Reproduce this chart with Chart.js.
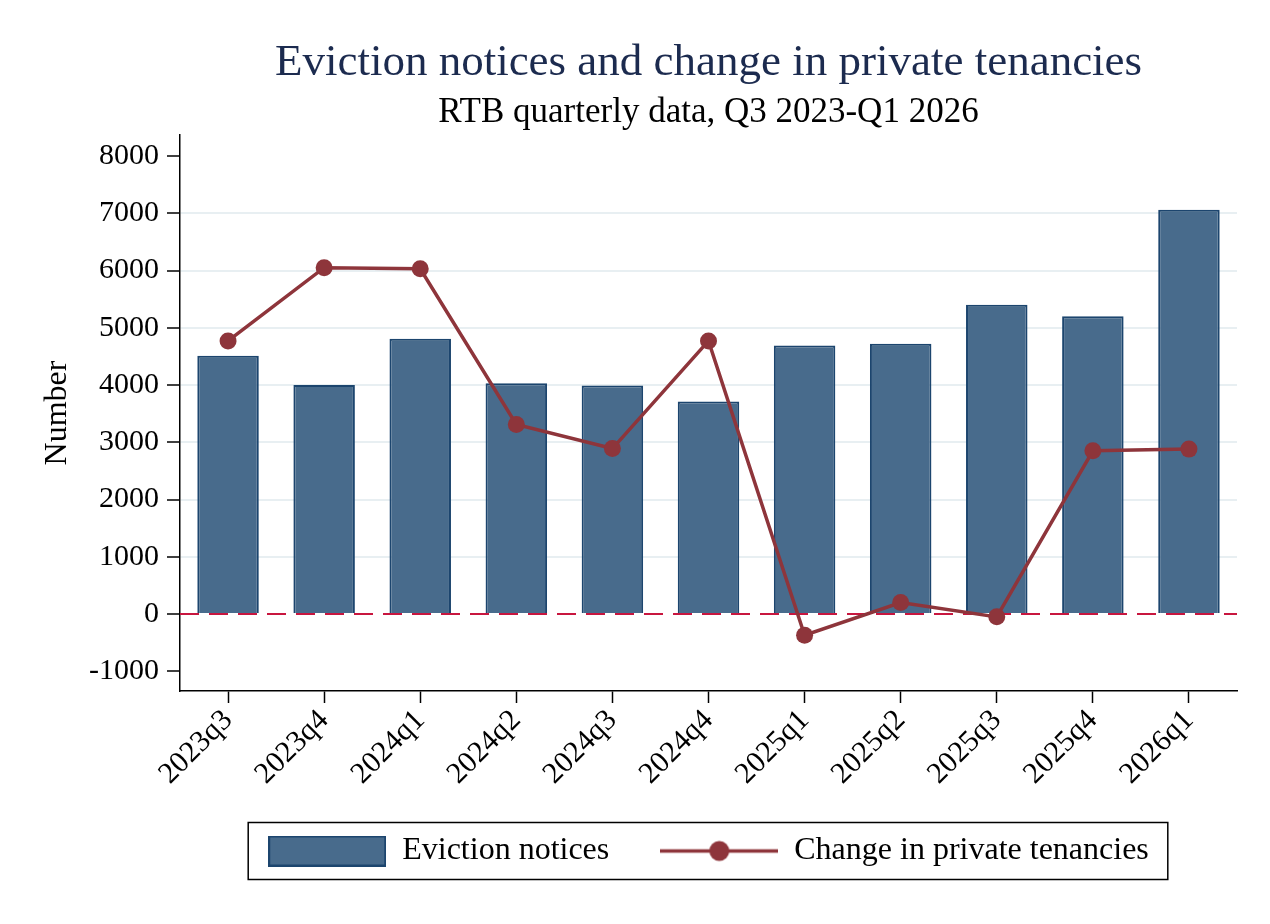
<!DOCTYPE html>
<html>
<head>
<meta charset="utf-8">
<title>Eviction notices and change in private tenancies</title>
<script src="https://cdn.jsdelivr.net/npm/chart.js@4.4.1/dist/chart.umd.min.js"></script>
<style>
  html, body { margin: 0; padding: 0; background: #fff; }
  canvas { display: block; }
</style>
</head>
<body>
<canvas id="evictionChart" width="1270" height="924"></canvas>
<script>
// quarters on the x axis
const quarters = ['2023q3', '2023q4', '2024q1', '2024q2', '2024q3', '2024q4',
                  '2025q1', '2025q2', '2025q3', '2025q4', '2026q1'];

// eviction notices (bars)
const evictionNotices = [4510, 4000, 4810, 4030, 3990, 3710, 4690, 4720, 5400, 5200, 7060];

// change in private tenancies (line)
const tenancyChange = [4770, 6050, 6030, 3310, 2890, 4770, -370, 200, -50, 2850, 2880];

// y axis tick labels
const yTicks = [-1000, 0, 1000, 2000, 3000, 4000, 5000, 6000, 7000, 8000];

const BAR_FILL = '#486b8c';
const BAR_EDGE = '#1c456e';
const LINE_COL = '#8e353b';
const SERIF = '"Liberation Serif", "Times New Roman", serif';

Chart.defaults.font.family = SERIF;
Chart.defaults.color = '#000';

// little pictures for the legend keys
function makeSwatch(kind) {
  const c = document.createElement('canvas');
  c.width = 118;
  c.height = 31;
  const g = c.getContext('2d');
  if (kind === 'bar') {
    g.fillStyle = BAR_FILL;
    g.fillRect(0, 0, 118, 31);
    g.strokeStyle = BAR_EDGE;
    g.lineWidth = 2;
    g.strokeRect(1, 1, 116, 29);
  } else {
    g.strokeStyle = LINE_COL;
    g.lineWidth = 3.5;
    g.beginPath();
    g.moveTo(0, 15.5);
    g.lineTo(118, 15.5);
    g.stroke();
    g.fillStyle = LINE_COL;
    g.beginPath();
    g.arc(59, 15.5, 10, 0, Math.PI * 2);
    g.fill();
  }
  return c;
}
const swatches = [makeSwatch('bar'), makeSwatch('line')];

// dashed red line at zero, over the bars but under the line
const zeroLine = {
  id: 'zeroLine',
  afterDatasetDraw(chart, args) {
    if (args.meta.type !== 'bar') return;
    const { ctx, chartArea } = chart;
    const y = chart.scales.y.getPixelForValue(0);
    ctx.save();
    ctx.strokeStyle = '#c8163f';
    ctx.lineWidth = 2.2;
    ctx.setLineDash([19, 10]);
    ctx.beginPath();
    ctx.moveTo(chartArea.left, y);
    ctx.lineTo(chartArea.right, y);
    ctx.stroke();
    ctx.restore();
  }
};

// black frame round the legend
const legendFrame = {
  id: 'legendFrame',
  afterDraw(chart) {
    const hb = chart.legend && chart.legend.legendHitBoxes;
    if (!hb || !hb.length) return;
    const last = hb[hb.length - 1];
    const cy = hb[0].top + hb[0].height / 2;
    const left = hb[0].left - 20;
    const right = last.left + last.width + 19;
    const ctx = chart.ctx;
    ctx.save();
    ctx.strokeStyle = '#000';
    ctx.lineWidth = 1.5;
    ctx.strokeRect(left, cy - 28.5, right - left, 57);
    ctx.restore();
  }
};

const ctx = document.getElementById('evictionChart').getContext('2d');

new Chart(ctx, {
  type: 'bar',
  data: {
    labels: quarters,
    datasets: [
      {
        type: 'bar',
        label: 'Eviction notices',
        data: evictionNotices,
        backgroundColor: BAR_FILL,
        borderColor: BAR_EDGE,
        borderWidth: 2,
        borderSkipped: 'start',
        barPercentage: 0.64,
        categoryPercentage: 1.0,
        order: 1
      },
      {
        type: 'line',
        label: 'Change in private tenancies',
        data: tenancyChange,
        borderColor: LINE_COL,
        backgroundColor: LINE_COL,
        borderWidth: 3.5,
        pointRadius: 8.5,
        pointBorderWidth: 0,
        pointBackgroundColor: LINE_COL,
        tension: 0,
        order: 0
      }
    ]
  },
  options: {
    responsive: false,
    animation: false,
    layout: { padding: { left: 0, right: 33, top: 0, bottom: 47 } },
    scales: {
      x: {
        offset: true,
        grid: {
          drawOnChartArea: false,
          offset: false,
          tickLength: 12,
          tickColor: '#000',
          tickWidth: 1.5
        },
        border: { color: '#000', width: 1.5 },
        ticks: {
          font: { size: 30, lineHeight: 1 },
          color: '#000',
          maxRotation: 45,
          minRotation: 45,
          padding: 2,
          autoSkip: false
        },
        afterFit: (scale) => { scale.height = 93; }
      },
      y: {
        min: -1345,
        max: 8367,
        afterBuildTicks: (scale) => { scale.ticks = yTicks.map(v => ({ value: v })); },
        grid: {
          color: (c) => (c.tick && c.tick.value >= 1000 && c.tick.value <= 7000) ? '#e8eff2' : 'rgba(0,0,0,0)',
          lineWidth: 2,
          tickLength: 13,
          tickColor: '#000',
          tickWidth: 1.5
        },
        border: { color: '#000', width: 1.5 },
        ticks: {
          font: { size: 30 },
          color: '#000',
          padding: 8,
          callback: (v) => String(v)
        },
        title: {
          display: true,
          text: 'Number',
          font: { size: 32 },
          color: '#000',
          padding: { top: 38, bottom: 0 }
        },
        afterFit: (scale) => { scale.width = 180; }
      }
    },
    plugins: {
      title: {
        display: true,
        text: 'Eviction notices and change in private tenancies',
        fullSize: false,
        color: '#1c2b4f',
        font: { size: 45, weight: 'normal' },
        padding: { top: 36, bottom: 2 }
      },
      subtitle: {
        display: true,
        text: 'RTB quarterly data, Q3 2023-Q1 2026',
        fullSize: false,
        color: '#000',
        font: { size: 35, weight: 'normal' },
        padding: { top: 0, bottom: 1 }
      },
      legend: {
        position: 'bottom',
        fullSize: false,
        labels: {
          usePointStyle: true,
          pointStyleWidth: 118,
          padding: 51,
          color: '#000',
          font: { size: 32 },
          generateLabels: (chart) => chart.data.datasets.map((ds, i) => ({
            text: ds.label,
            pointStyle: swatches[i],
            datasetIndex: i,
            hidden: false,
            lineWidth: 0,
            fontColor: '#000'
          }))
        }
      },
      tooltip: { enabled: false }
    }
  },
  plugins: [zeroLine, legendFrame]
});
</script>
</body>
</html>
